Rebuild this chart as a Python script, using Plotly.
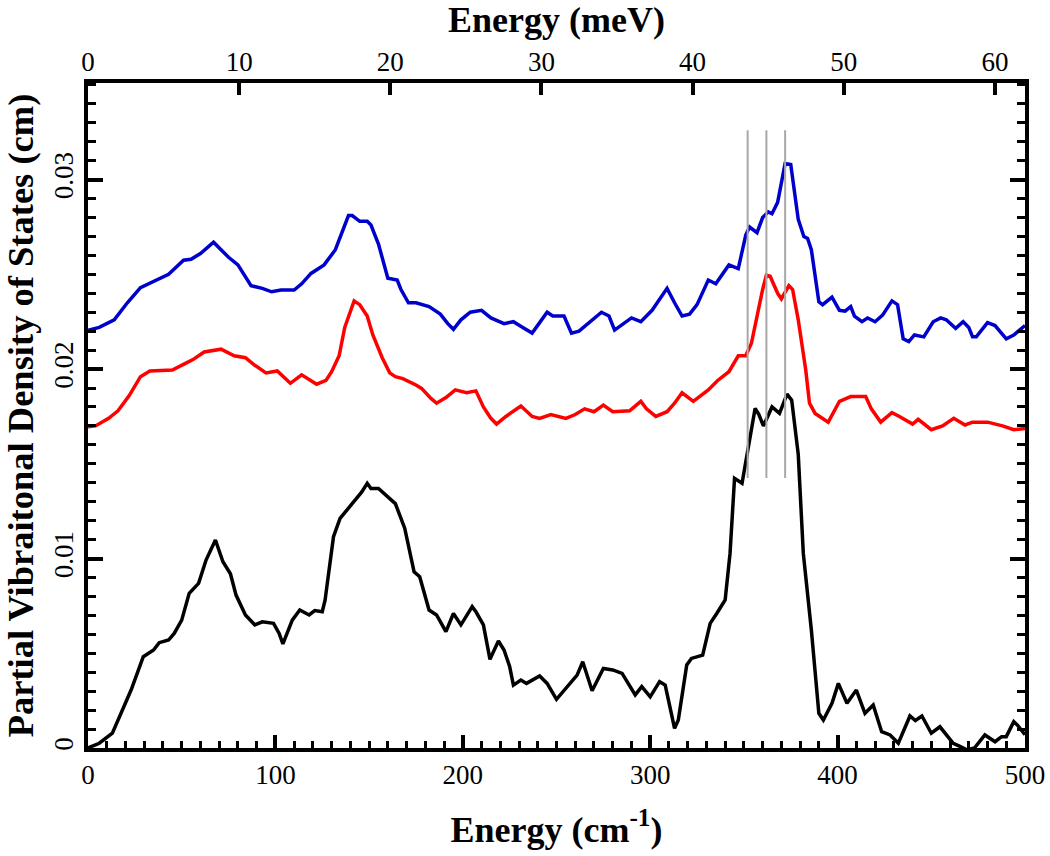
import plotly.graph_objects as go

# ---- data (Energy in cm^-1, PVDOS in cm) ----
blue_x = [0, 6, 14, 21, 28, 34, 43, 51, 55, 60,
          67, 75, 80, 87, 93, 98, 103, 110, 114, 119,
          126, 132, 136, 139, 141, 145, 149, 151, 155, 158,
          160, 165, 167, 171, 175, 182, 188, 192, 195, 199,
          204, 210, 215, 222, 227, 232, 237, 245, 248, 254,
          258, 262, 267, 274, 278, 281, 290, 295, 301, 309,
          313, 317, 321, 325, 331, 335, 342, 347, 351, 353,
          357, 360, 363, 365, 368, 372, 375, 377, 379, 382,
          384, 386, 390, 392, 397, 401, 404, 407, 409, 413,
          416, 420, 424, 429, 432, 435, 438, 441, 446, 451,
          455, 458, 463, 467, 470, 472, 474, 480, 484, 490,
          494, 500]
blue_y = [0.02205, 0.0222, 0.0226, 0.0235, 0.0243, 0.0246, 0.0250, 0.02575, 0.0258, 0.0261,
          0.0267, 0.0259, 0.0255, 0.0244, 0.02426, 0.02408, 0.02417, 0.02417, 0.0245, 0.02505,
          0.0255, 0.0263, 0.0273, 0.0281, 0.0281, 0.0278, 0.0278, 0.0276, 0.0266, 0.0256,
          0.0248, 0.0247, 0.0242, 0.0235, 0.0235, 0.0233, 0.0229, 0.0224, 0.0221, 0.0226,
          0.0230, 0.0231, 0.0227, 0.0224, 0.0225, 0.0222, 0.0219, 0.0230, 0.0228, 0.0228,
          0.0219, 0.0220, 0.0224, 0.0230, 0.0228, 0.02206, 0.0227, 0.0225, 0.0231, 0.02426,
          0.0235, 0.0228, 0.0229, 0.0234, 0.0247, 0.0245, 0.0255, 0.0253, 0.02707, 0.0275,
          0.0272, 0.0280, 0.0283, 0.0282, 0.0288, 0.03085, 0.0308, 0.0293, 0.0279, 0.0270,
          0.0269, 0.0263, 0.02355, 0.0234, 0.0238, 0.0231, 0.02306, 0.0233, 0.0228, 0.0225,
          0.0227, 0.0225, 0.02285, 0.0236, 0.0234, 0.0216, 0.02145, 0.0218, 0.0217, 0.0225,
          0.0227, 0.0226, 0.02215, 0.0225, 0.0222, 0.0217, 0.0217, 0.02245, 0.0223, 0.0216,
          0.0218, 0.0223]

red_x = [0, 4, 11, 16, 22, 28, 33, 45, 52, 56,
         62, 67, 71, 78, 84, 89, 95, 101, 104, 108,
         114, 117, 122, 127, 130, 134, 137, 142, 145, 149,
         152, 157, 161, 164, 168, 175, 178, 183, 186, 191,
         196, 202, 207, 211, 215, 218, 223, 231, 237, 241,
         247, 255, 260, 265, 270, 275, 280, 289, 295, 298,
         303, 309, 313, 317, 323, 331, 336, 342, 347, 351,
         354, 360, 362, 364, 368, 370, 374, 376, 379, 383,
         385, 388, 395, 401, 407, 415, 418, 423, 429, 433,
         440, 443, 450, 456, 462, 468, 472, 480, 488, 494,
         500]
red_y = [0.01695, 0.0170, 0.0174, 0.0178, 0.0186, 0.0196, 0.0199, 0.01995, 0.0203, 0.0205,
         0.0209, 0.02097, 0.02105, 0.0207, 0.0206, 0.0202, 0.0198, 0.0199, 0.0196, 0.01925,
         0.0197, 0.0195, 0.0192, 0.0194, 0.01986, 0.0207, 0.0222, 0.0236, 0.0234, 0.0228,
         0.0218, 0.0206, 0.0198, 0.0196, 0.0195, 0.01916, 0.01898, 0.01845, 0.0182, 0.0185,
         0.0189, 0.01875, 0.01885, 0.0180, 0.0174, 0.0171, 0.0175, 0.01805, 0.0175, 0.0174,
         0.0176, 0.0174, 0.0176, 0.0179, 0.01775, 0.0181, 0.01775, 0.0178, 0.0183, 0.0179,
         0.0175, 0.01775, 0.0182, 0.01875, 0.0183, 0.0189, 0.0194, 0.01986, 0.0207, 0.0207,
         0.02136, 0.0242, 0.02496, 0.0249, 0.0240, 0.0237, 0.0244, 0.0242, 0.0226, 0.01995,
         0.0182, 0.01766, 0.0172, 0.0183, 0.01855, 0.01855, 0.0179, 0.0172, 0.0177, 0.0175,
         0.0171, 0.01735, 0.0168, 0.0170, 0.0174, 0.01705, 0.0172, 0.0172, 0.0170, 0.0168,
         0.01687]

black_x = [0, 6, 13, 17, 23, 29.5, 35, 38, 43, 46,
           50, 54, 59, 63, 68, 72, 76, 79, 84, 89,
           93, 99, 102, 104, 109, 113, 118, 121, 125, 126.5,
           131, 134.5, 139, 143, 146, 149, 151, 155, 159, 164,
           169, 174, 177, 182, 186, 191, 195, 199, 205, 207,
           211, 214.5, 219, 222, 225, 227, 231, 234, 241, 245,
           250, 256, 261, 264, 269, 275, 280, 285, 292, 295.5,
           300, 305, 308, 313, 315, 319.5, 322, 328, 332, 335.5,
           340, 342.6, 345, 349, 352.4, 356, 358, 360.4, 365, 369,
           373, 375.5, 379, 381.7, 386, 390, 392.4, 397, 400.4, 405,
           410, 414.6, 419, 423.5, 428, 432.4, 438.6, 441.5, 445, 450,
           454.6, 461.7, 465, 469, 473, 478.6, 484, 487.5, 490, 494,
           496, 500]
black_y = [0.0, 0.00025, 0.00078, 0.00165, 0.00306, 0.00482, 0.00517, 0.00556, 0.0057, 0.00605,
           0.00675, 0.00816, 0.00869, 0.00992, 0.01098, 0.00983, 0.0092, 0.00807, 0.00702, 0.0065,
           0.00666, 0.00658, 0.00605, 0.0055, 0.00675, 0.00728, 0.00702, 0.00725, 0.00719, 0.0078,
           0.01115, 0.01212, 0.01265, 0.0131, 0.0135, 0.01397, 0.0137, 0.0137, 0.01335, 0.0129,
           0.0116, 0.0093, 0.00904, 0.00728, 0.00702, 0.00614, 0.0071, 0.0065, 0.00746, 0.00719,
           0.0065, 0.00468, 0.00565, 0.00517, 0.0043, 0.00332, 0.00359, 0.00341, 0.0038, 0.00341,
           0.00257, 0.00324, 0.00385, 0.00455, 0.00302, 0.0042, 0.00412, 0.00394, 0.0028, 0.00324,
           0.0027, 0.0035, 0.00332, 0.00104, 0.00148, 0.00438, 0.00473, 0.0049, 0.00658, 0.0071,
           0.00781, 0.01027, 0.01423, 0.01397, 0.0159, 0.01793, 0.0176, 0.0170, 0.0180, 0.01766,
           0.01868, 0.01836, 0.0155, 0.01027, 0.00623, 0.00183, 0.00148, 0.00236, 0.00341, 0.00236,
           0.00306, 0.00183, 0.00227, 0.00086, 0.00069, 0.00025, 0.00169, 0.00145, 0.00169, 0.00078,
           0.00112, 0.00025, 0.0001, -0.0001, 0.0, 0.00069, 0.00033, 0.0006, 0.0006, 0.00139,
           0.0012, 0.0007]

marker_energies = [352, 362, 372]      # cm^-1, grey reference lines
marker_span = [0.01425, 0.0326]        # PVDOS range of the grey lines

x_range = [0, 500]
y_range = [0, 0.0351]
mev_ticks = [0, 10, 20, 30, 40, 50, 60]
CM_PER_MEV = 8.06554

assert len(blue_x) == len(blue_y)
assert len(red_x) == len(red_y)
assert len(black_x) == len(black_y)

FONT = "Liberation Serif"

fig = go.Figure()
fig.add_trace(go.Scatter(x=black_x, y=black_y, mode="lines",
                         line=dict(color="black", width=3.5), showlegend=False))
fig.add_trace(go.Scatter(x=red_x, y=red_y, mode="lines",
                         line=dict(color="#ff0000", width=3.5), showlegend=False))
fig.add_trace(go.Scatter(x=blue_x, y=blue_y, mode="lines",
                         line=dict(color="#0000cc", width=3.5), showlegend=False))

gx, gy = [], []
for e in marker_energies:
    gx += [e, e, None]
    gy += [marker_span[0], marker_span[1], None]
fig.add_trace(go.Scatter(x=gx, y=gy, mode="lines",
                         line=dict(color="#a8a8a8", width=2), showlegend=False))

# invisible copy on the meV axis so that the top axis is drawn
fig.add_trace(go.Scatter(x=[v / CM_PER_MEV for v in black_x], y=black_y, mode="lines",
                         xaxis="x2", yaxis="y", opacity=0, hoverinfo="skip",
                         line=dict(color="black", width=0), showlegend=False))

fig.update_layout(
    width=1050, height=856,
    margin=dict(l=88, r=25, t=83, b=108),
    plot_bgcolor="white", paper_bgcolor="white",
    font=dict(family=FONT, color="black", size=26),
    xaxis=dict(
        range=x_range, dtick=100, tick0=0, automargin=False,
        ticks="inside", ticklen=13, tickwidth=4, tickcolor="black",
        minor=dict(dtick=10, ticks="inside", ticklen=7, tickwidth=3, tickcolor="black"),
        showline=True, linewidth=4, linecolor="black", mirror=True,
        showgrid=False, zeroline=False,
        tickfont=dict(family=FONT, size=27),
        title=dict(text="Energy (cm<sup>-1</sup>)", standoff=28,
                   font=dict(family=FONT, size=36, weight="bold")),
    ),
    xaxis2=dict(
        overlaying="x", side="top", anchor="y", automargin=False,
        range=[x_range[0] / CM_PER_MEV, x_range[1] / CM_PER_MEV],
        tickvals=mev_ticks,
        ticks="inside", ticklen=12, tickwidth=4, tickcolor="black",
        showline=False, showgrid=False, zeroline=False,
        ticklabelstandoff=6,
        tickfont=dict(family=FONT, size=27),
        title=dict(text="Energy (meV)", standoff=8,
                   font=dict(family=FONT, size=36, weight="bold")),
    ),
    yaxis=dict(
        range=y_range, dtick=0.01, tick0=0, automargin=False,
        ticks="inside", ticklen=15, tickwidth=4, tickcolor="black",
        minor=dict(dtick=0.001, ticks="inside", ticklen=8, tickwidth=3, tickcolor="black"),
        showline=True, linewidth=4, linecolor="black", mirror="ticks",
        showgrid=False, zeroline=False,
        tickangle=-90,
        tickfont=dict(family=FONT, size=27),
        title=dict(text="Partial Vibraitonal Density of States (cm)", standoff=18,
                   font=dict(family=FONT, size=36.5, weight="bold")),
    ),
)

fig.write_html("out.html", config={"displayModeBar": False},
               post_script="document.body.style.margin='0';document.body.style.overflow='hidden';")
